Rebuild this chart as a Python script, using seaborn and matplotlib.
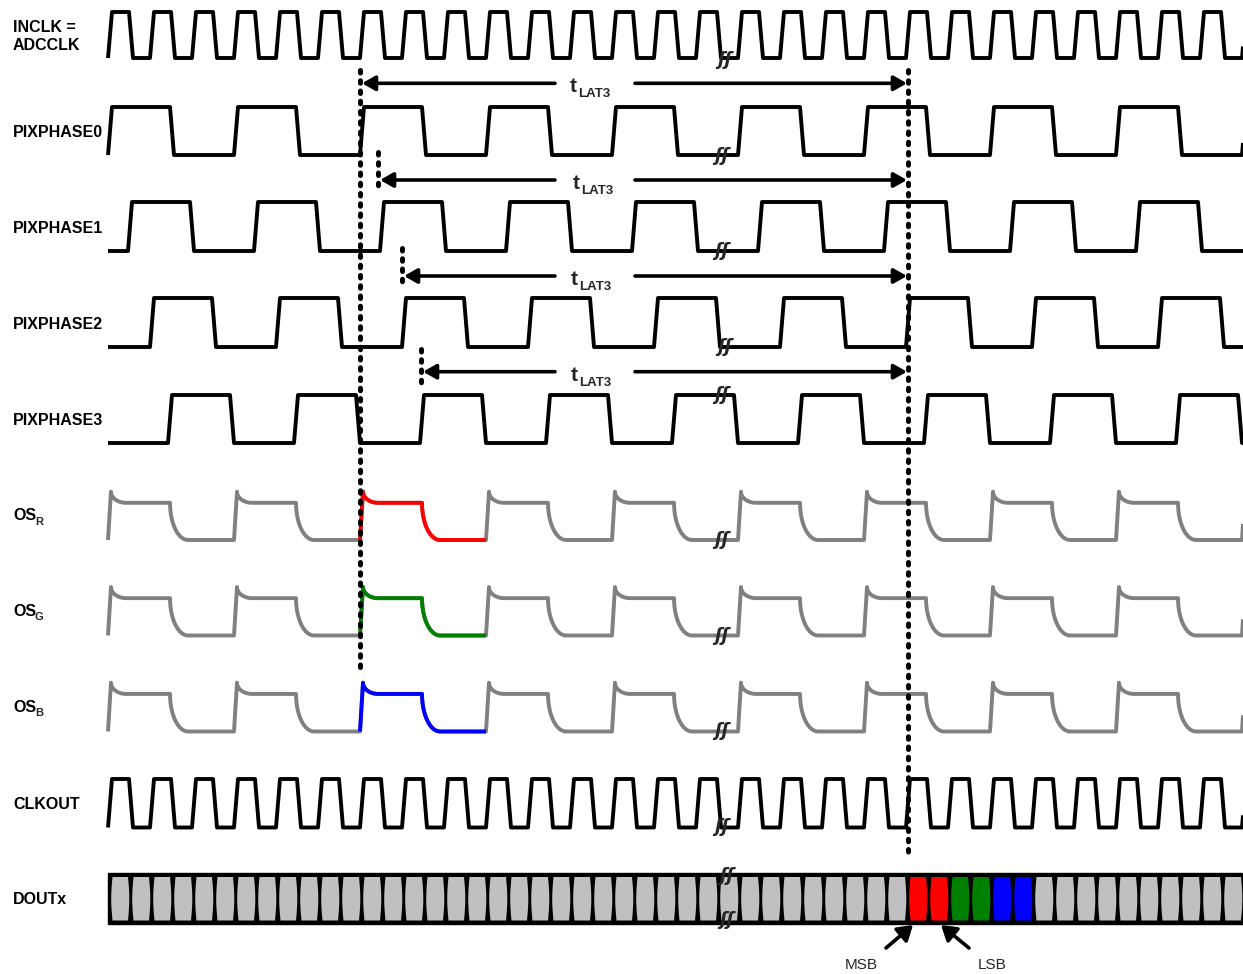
import numpy as np
import matplotlib
matplotlib.use("Agg")
import matplotlib.pyplot as plt
import seaborn as sns
from matplotlib.patches import Polygon, Rectangle

# ---------------- data ----------------
row_labels = ["PIXPHASE0", "PIXPHASE1", "PIXPHASE2", "PIXPHASE3"]
clock_label = ["INCLK =", "ADCCLK"]
os_label = "OS"
os_subscripts = ["R", "G", "B"]
os_colors = ["#ff0000", "#008000", "#0000ff"]
clkout_label = "CLKOUT"
dout_label = "DOUTx"
clock_period = 42            # time units per INCLK / CLKOUT period
pixel_clocks = 3             # one pixel = 3 clocks
pixphase_offsets = [0, 20, 42, 60]
pixphase_high = 62
highlight_pixel = 2          # pixel period highlighted in colour on OS_x
latency_starts = [360, 378, 402, 421]
latency_end = 908
latency_text = ("t", "LAT3")
dout_colored_bits = [38, 39, 40, 41, 42, 43]
dout_bit_colors = ["#ff0000", "#ff0000", "#008000", "#008000", "#0000ff", "#0000ff"]
msb_lsb = ["MSB", "LSB"]
os_plateau_frac = 0.77

# ---------------- layout ----------------
T0, TEND = 108, 1243
EDGE = 4
sns.set_theme(style="white")
plt.rcParams['font.family'] = ['Liberation Sans', 'DejaVu Sans']

fig = plt.figure(figsize=(12.43, 9.74), dpi=100)
ax = fig.add_axes([0, 0, 1, 1])
ax.set_xlim(0, 1243)
ax.set_ylim(974, 0)
ax.axis('off')

LW = 2.8


def clip(xs, ys):
    xs = np.asarray(xs, float)
    ys = np.asarray(ys, float)
    inside = (xs > T0) & (xs < TEND)
    x = np.concatenate([[T0], xs[inside], [TEND]])
    y = np.concatenate([[np.interp(T0, xs, ys)], ys[inside], [np.interp(TEND, xs, ys)]])
    return x, y


def square(offset, period, high):
    xs, ys = [], []
    for k in range(-3, int((TEND - T0) / period) + 3):
        r = T0 + offset + k * period
        f = r + high
        xs += [r, r + EDGE, f, f + EDGE]
        ys += [0, 1, 1, 0]
    return clip(xs, ys)


def quarter(x0, y0, w, h, n=14):
    th = np.linspace(0, np.pi / 2, n)[1:]
    return list(x0 + w * (1 - np.cos(th))), list(y0 + h * np.sin(th))


def os_period(p):
    xs, ys = [p, p + 3], [0, 1]
    qx, qy = quarter(p + 3, 1.0, 15, -(1 - os_plateau_frac))
    xs += qx; ys += qy
    xs += [p + 62]; ys += [os_plateau_frac]
    qx, qy = quarter(p + 62, os_plateau_frac, 18, -os_plateau_frac)
    xs += qx; ys += qy
    return xs, ys


def os_wave():
    P = clock_period * pixel_clocks
    xs, ys = [], []
    for k in range(-2, int((TEND - T0) / P) + 3):
        a, b = os_period(T0 + k * P)
        xs += a; ys += b
    return clip(xs, ys)


def draw(x, y, lo, hi, color="black"):
    yy = lo + (hi - lo) * np.asarray(y)
    sns.lineplot(x=x, y=yy, ax=ax, sort=False, estimator=None, color=color,
                 lw=LW, legend=False, solid_joinstyle='round', solid_capstyle='butt', zorder=3)


label_kw = dict(fontsize=11.5, fontweight='bold', ha='left', va='baseline', color='black')

# INCLK
x, y = square(0, clock_period, clock_period / 2)
draw(x, y, 58, 12)
ax.text(13, 31.5, clock_label[0], **label_kw)
ax.text(13, 50, clock_label[1], **label_kw)

# PIXPHASE rows
pp_hi = [107, 202, 298, 395]
pp_lo = [155, 251, 347, 443]
for i, (lab, off) in enumerate(zip(row_labels, pixphase_offsets)):
    x, y = square(off, clock_period * pixel_clocks, pixphase_high)
    draw(x, y, pp_lo[i], pp_hi[i])
    ax.text(13, pp_lo[i] - 18, lab, **label_kw)

# OS rows
os_lo = [540, 635.5, 731.5]
os_pk = [491.7, 587, 682.7]
P = clock_period * pixel_clocks
for i in range(3):
    x, y = os_wave()
    draw(x, y, os_lo[i], os_pk[i], color="#808080")
    p = T0 + highlight_pixel * P
    a, b = os_period(p)
    a = a + [p + P]; b = b + [0]
    draw(np.array(a), np.array(b), os_lo[i], os_pk[i], color=os_colors[i])
    ax.text(13, os_lo[i] - 20, os_label, **label_kw)
    ax.text(35, os_lo[i] - 15, os_subscripts[i], fontsize=8, fontweight='bold',
            ha='left', va='baseline')

# CLKOUT
x, y = square(0, clock_period, clock_period / 2)
draw(x, y, 827.5, 779)
ax.text(13, 809, clkout_label, **label_kw)

# DOUTx bus
ax.add_patch(Rectangle((T0, 873), TEND - T0, 51, facecolor='black', edgecolor='black', zorder=3))
pitch = clock_period / 2
nbits = int((TEND - T0) / pitch) + 1
s = np.linspace(0, 1, 12)
for k in range(nbits):
    xs = T0 + 2 + k * pitch
    xl, xr = xs + 2.5, xs + 18
    top, bot = 877, 920.5
    left = np.column_stack([xl - 1.3 * np.sin(np.pi * s), bot + (top - bot) * s])
    right = np.column_stack([xr + 1.3 * np.sin(np.pi * s), top + (bot - top) * s])
    color = "#c0c0c0"
    if k in dout_colored_bits:
        color = dout_bit_colors[dout_colored_bits.index(k)]
    ax.add_patch(Polygon(np.vstack([left, right]), closed=True, facecolor=color,
                         edgecolor='none', zorder=4))
ax.text(13, 904, dout_label, **label_kw)

# MSB / LSB arrows
akw = dict(arrowstyle='-|>,head_length=0.55,head_width=0.35', color='black', lw=2.6,
           shrinkA=0, shrinkB=0, mutation_scale=16)
ax.annotate("", xy=(913, 925), xytext=(886, 948), arrowprops=akw, zorder=6)
ax.annotate("", xy=(941, 925), xytext=(969, 948), arrowprops=akw, zorder=6)
ax.text(845, 969, msb_lsb[0], fontsize=11, ha='left', va='baseline')
ax.text(978, 969, msb_lsb[1], fontsize=11, ha='left', va='baseline')

# dotted lines
dkw = dict(color='black', lw=3.6, dashes=(0.5, 1.55), dash_capstyle='round', zorder=7)
ax.plot([360, 360], [70, 668], **dkw)
ax.plot([908, 908], [70, 858], **dkw)
short_spans = [(152, 191), (248, 288), (349, 388)]
for xs_, (a, b) in zip(latency_starts[1:], short_spans):
    ax.plot([xs_, xs_], [a, b], **dkw)

# latency arrows
arrow_y = [83.3, 180, 276, 371.7]
lkw = dict(arrowstyle='-|>,head_length=0.6,head_width=0.34', color='black', lw=2.6,
           shrinkA=0, shrinkB=0, mutation_scale=13)
t_x = [570, 573, 571, 571]
for ys_, xs_, tx in zip(arrow_y, latency_starts, t_x):
    ax.annotate("", xy=(xs_ + 2, ys_), xytext=(555, ys_), arrowprops=lkw, zorder=6)
    ax.annotate("", xy=(latency_end - 1, ys_), xytext=(635, ys_), arrowprops=lkw, zorder=6)
    ax.text(tx, ys_ + 9, latency_text[0], fontsize=15, fontweight='bold', ha='left', va='baseline')
    ax.text(tx + 8, ys_ + 14, latency_text[1], fontsize=9.5, fontweight='bold', ha='left', va='baseline')

# break symbols
brk = [(725, 60), (722, 156), (722, 251), (725, 347), (722, 395),
       (722, 540), (722, 636), (722, 731), (722, 827), (727, 876), (727, 920)]
for bx, by in brk:
    ax.text(bx, by, "ʃʃ", fontsize=13, fontweight='bold', fontstyle='italic',
            family=['DejaVu Sans'], ha='center', va='center', zorder=8)

fig.savefig("out.png", dpi=100, facecolor='white')
